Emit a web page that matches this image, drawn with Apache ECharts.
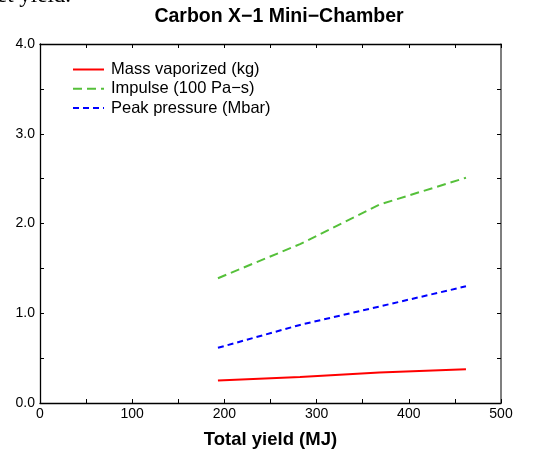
<!DOCTYPE html>
<html>
<head>
<meta charset="utf-8">
<script src="https://cdn.jsdelivr.net/npm/echarts@6/dist/echarts.min.js"></script>
<style>
  html, body { margin: 0; padding: 0; background: #fff; }
  #chart { width: 533px; height: 450px; }
</style>
</head>
<body>
<div id="chart"></div>
<script>
var yieldMJ = [193, 282, 368, 462];
var massVaporized = [0.25, 0.29, 0.34, 0.375];
var impulse = [1.39, 1.77, 2.21, 2.51];
var peakPressure = [0.615, 0.87, 1.075, 1.30];

function pairs(ys) {
    return yieldMJ.map(function (x, i) { return [x, ys[i]]; });
}

var font = 'Liberation Sans, Arial, sans-serif';
var myChart = echarts.init(document.getElementById('chart'));

var option = {
    animation: false,
    title: {
        text: 'Carbon X\u22121 Mini\u2212Chamber',
        left: 274,
        textAlign: 'center',
        top: 2,
        textStyle: { fontFamily: font, fontSize: 19.5, fontWeight: 'bold', color: '#000' }
    },
    graphic: [{
        type: 'text',
        left: -3,
        top: -16,
        style: { text: 'et yield.', font: '23px "Liberation Serif", serif', fill: '#000' }
    }],
    legend: {
        orient: 'vertical',
        left: 67,
        top: 56,
        itemWidth: 31,
        itemHeight: 14,
        itemGap: 2.3,
        itemStyle: { opacity: 0 },
        textStyle: { fontFamily: font, fontSize: 16.5, color: '#000', padding: [0, 0, 0, 2] },
        data: ['Mass vaporized (kg)', 'Impulse (100 Pa\u2212s)', 'Peak pressure (Mbar)']
    },
    grid: { left: 40, right: 32, top: 44, bottom: 47, outerBoundsMode: 'none' },
    xAxis: [{
        type: 'value', min: 0, max: 500, interval: 50, position: 'bottom',
        name: 'Total yield (MJ)', nameLocation: 'middle', nameGap: 27,
        nameTextStyle: { fontFamily: font, fontSize: 18.5, fontWeight: 'bold', color: '#000' },
        axisLine: { show: true, onZero: false, lineStyle: { color: '#000', width: 1.3 } },
        axisTick: { show: true, inside: true, length: 4, lineStyle: { color: '#000' } },
        axisLabel: {
            fontFamily: font, fontSize: 14, color: '#000', margin: 4,
            formatter: function (v) { return v % 100 === 0 ? String(v) : ''; }
        },
        splitLine: { show: false }
    }, {
        type: 'value', min: 0, max: 500, interval: 50, position: 'top',
        axisLine: { show: true, onZero: false, lineStyle: { color: '#000', width: 1.3 } },
        axisTick: { show: true, inside: true, length: 4, lineStyle: { color: '#000' } },
        axisLabel: { show: false },
        splitLine: { show: false }
    }],
    yAxis: [{
        type: 'value', min: 0, max: 4, interval: 0.5, position: 'left',
        axisLine: { show: true, onZero: false, lineStyle: { color: '#000', width: 1.3 } },
        axisTick: { show: true, inside: true, length: 4, lineStyle: { color: '#000' } },
        axisLabel: {
            fontFamily: font, fontSize: 14, color: '#000', margin: 5,
            formatter: function (v) { return v % 1 === 0 ? v.toFixed(1) : ''; }
        },
        splitLine: { show: false }
    }, {
        type: 'value', min: 0, max: 4, interval: 0.5, position: 'right',
        axisLine: { show: true, onZero: false, lineStyle: { color: '#555', width: 1.5 } },
        axisTick: { show: true, inside: true, length: 4, lineStyle: { color: '#000' } },
        axisLabel: { show: false },
        splitLine: { show: false }
    }],
    series: [{
        name: 'Mass vaporized (kg)', type: 'line', symbol: 'none',
        data: pairs(massVaporized),
        lineStyle: { color: '#ff0000', width: 2 },
        itemStyle: { color: '#ff0000' }
    }, {
        name: 'Impulse (100 Pa\u2212s)', type: 'line', symbol: 'none',
        data: pairs(impulse),
        lineStyle: { color: '#55c03a', width: 2, type: [9, 5] },
        itemStyle: { color: '#55c03a' }
    }, {
        name: 'Peak pressure (Mbar)', type: 'line', symbol: 'none',
        data: pairs(peakPressure),
        lineStyle: { color: '#0000ff', width: 2, type: [6, 4] },
        itemStyle: { color: '#0000ff' }
    }]
};

myChart.setOption(option);
window.addEventListener('resize', function () {
    myChart.resize();
});
</script>
</body>
</html>
